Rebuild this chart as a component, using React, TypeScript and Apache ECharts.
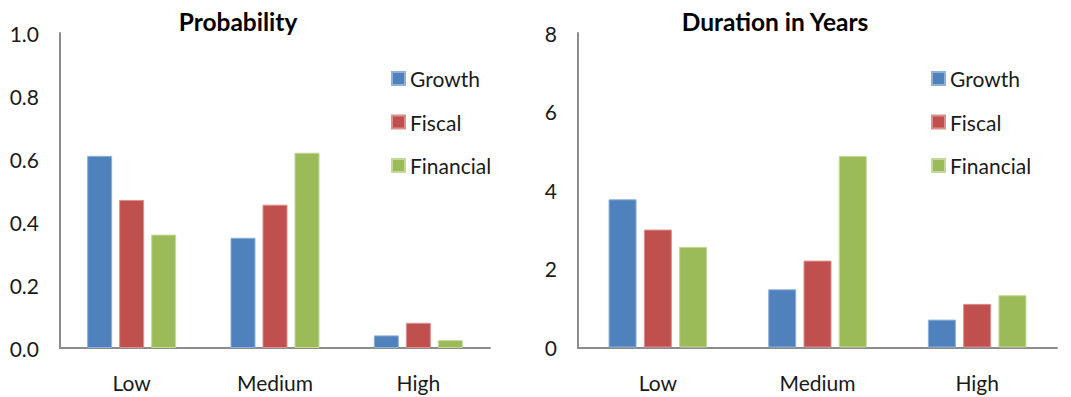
import React, { useEffect, useRef } from "react";
import * as echarts from "echarts";

const categories = ["Low", "Medium", "High"];
const seriesNames = ["Growth", "Fiscal", "Financial"];
const colors = ["#4F81BD", "#C0504D", "#9BBB59"];
const edgeColors = ["#8fb0d8", "#dc8f8c", "#c3d89a"];

// Probability by scenario
const probGrowth = [0.61, 0.35, 0.04];
const probFiscal = [0.47, 0.455, 0.08];
const probFinancial = [0.36, 0.62, 0.025];

// Duration in years by scenario
const durGrowth = [3.77, 1.48, 0.71];
const durFiscal = [3.0, 2.21, 1.11];
const durFinancial = [2.56, 4.87, 1.33];

const probTicks = { min: 0, max: 1, interval: 0.2 };
const durTicks = { min: 0, max: 8, interval: 2 };

const FONT = "Lato, 'Open Sans', sans-serif";

export default function App() {
  const ref = useRef<HTMLDivElement>(null);

  useEffect(() => {
    if (!ref.current) return;
    const chart = echarts.init(ref.current, undefined, { renderer: "svg" });

    const axisLine = { show: true, lineStyle: { color: "#8c8c8c", width: 2 } };
    const labelStyle = { color: "#1a1a1a", fontSize: 21, fontFamily: FONT };

    const probData = [probGrowth, probFiscal, probFinancial];
    const durData = [durGrowth, durFiscal, durFinancial];

    const series: any[] = [];
    probData.forEach((d, i) => {
      series.push({
        type: "bar",
        name: seriesNames[i],
        xAxisIndex: 0,
        yAxisIndex: 0,
        data: d,
        barWidth: 25,
        barGap: "28%",
        itemStyle: { color: colors[i], borderColor: edgeColors[i], borderWidth: 1 },
      });
    });
    durData.forEach((d, i) => {
      series.push({
        type: "bar",
        name: seriesNames[i],
        xAxisIndex: 1,
        yAxisIndex: 1,
        data: d,
        barWidth: 28,
        barGap: "26%",
        itemStyle: { color: colors[i], borderColor: edgeColors[i], borderWidth: 1 },
      });
    });

    const legendBase = {
      orient: "vertical" as const,
      icon: "rect",
      itemWidth: 13,
      itemHeight: 13,
      itemGap: 22.5,
      selectedMode: false,
      textStyle: { color: "#1a1a1a", fontSize: 21, fontFamily: FONT, lineHeight: 21 },
      data: seriesNames,
    };

    chart.setOption({
      animation: false,
      color: colors,
      title: [
        {
          text: "Probability",
          left: 233,
          top: 4,
          textAlign: "center",
          textStyle: { fontSize: 24.5, fontWeight: "bold", color: "#000", fontFamily: FONT },
        },
        {
          text: "Duration in Years",
          left: 770,
          top: 4,
          textAlign: "center",
          textStyle: { fontSize: 24.5, fontWeight: "bold", color: "#000", fontFamily: FONT },
        },
      ],
      legend: [
        { ...legendBase, left: 386, top: 63 },
        { ...legendBase, left: 926, top: 63 },
      ],
      grid: [
        { left: 60, top: 33, width: 430, height: 315, containLabel: false },
        { left: 578, top: 33, width: 479, height: 314.5, containLabel: false },
      ],
      xAxis: [0, 1].map((g) => ({
        type: "category",
        gridIndex: g,
        data: categories,
        axisLine,
        axisTick: { show: false },
        axisLabel: { ...labelStyle, margin: 24 },
      })),
      yAxis: [
        {
          type: "value",
          gridIndex: 0,
          ...probTicks,
          axisLine,
          axisTick: { show: false },
          splitLine: { show: false },
          axisLabel: { ...labelStyle, margin: 21, formatter: (v: number) => v.toFixed(1) },
        },
        {
          type: "value",
          gridIndex: 1,
          ...durTicks,
          axisLine,
          axisTick: { show: false },
          splitLine: { show: false },
          axisLabel: { ...labelStyle, margin: 21 },
        },
      ],
      series,
    });

    return () => chart.dispose();
  }, []);

  return (
    <div
      ref={ref}
      style={{ position: "fixed", left: 0, top: 0, width: 1071, height: 397, background: "#fff" }}
    />
  );
}
